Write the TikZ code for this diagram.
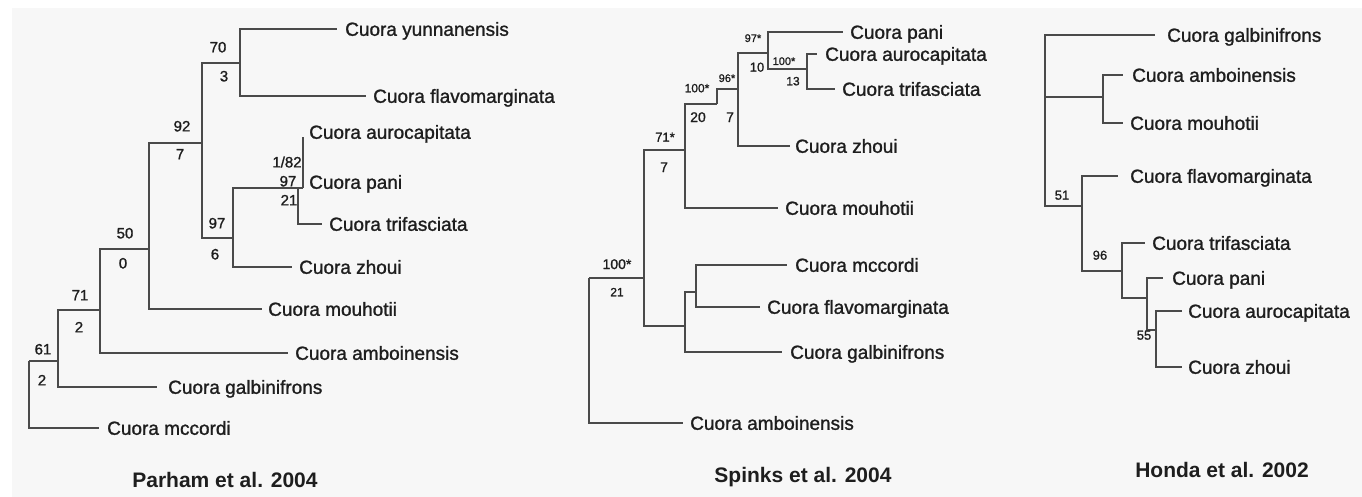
\documentclass[tikz,border=0pt]{standalone}
\usepackage{fontspec}
\setmainfont{Liberation Sans}
\newfontfamily\heavyfont[FakeBold=1.2]{Liberation Sans}
\definecolor{branch}{HTML}{4A4A4A}
\definecolor{txt}{HTML}{1E1E1E}
\definecolor{paper}{HTML}{F7F7F7}
\tikzset{
  br/.style={draw=branch, line width=2.4pt},
  taxon/.style={anchor=base west, inner sep=0pt, yshift=-6.8pt, text=txt, font=\heavyfont\fontsize{19}{22}\selectfont},
  lab/.style={anchor=base, inner sep=0pt, yshift={-0.36*#1}, text=txt, font=\heavyfont\fontsize{#1}{#1}\selectfont},
  ttl/.style={anchor=base, inner sep=0pt, yshift=-7.5pt, text=txt, font=\bfseries\fontsize{21}{25}\selectfont},
}
\newcommand{\tip}[5]{% name, end of branch, y, start of text, species
  \coordinate (#1) at (#2,#3);
  \node[taxon] (#1-t) at (#4,#3) {#5};
}

\begin{document}
\begin{tikzpicture}[x=1pt, y=-1pt]
\fill[white] (0,0) rectangle (1362,497);
\fill[paper] (12,8) rectangle (1362,497);
\useasboundingbox (0,0) rectangle (1362,497);

% ---------------- Parham et al. 2004 ----------------
\coordinate (pR) at (29,361);
\coordinate (p61) at (58,361);
\coordinate (p71) at (100,310);
\coordinate (p50) at (149,249);
\coordinate (p92) at (202,143);
\coordinate (p70) at (240,63);
\coordinate (p97) at (233,238);
\coordinate (p182) at (303,188);
\coordinate (p21) at (298,188);
\tip{pyun}{337}{29}{345}{Cuora yunnanensis}
\tip{pfla}{366}{96}{373}{Cuora flavomarginata}
\coordinate (paur) at (303,137);
\node[taxon] (paur-t) at (309,132) {Cuora aurocapitata};
\node[taxon] (ppan-t) at (309,182) {Cuora pani};
\tip{ptri}{322}{224}{329}{Cuora trifasciata}
\tip{pzho}{292}{267}{299}{Cuora zhoui}
\tip{pmou}{262}{309}{268}{Cuora mouhotii}
\tip{pamb}{288}{353}{295}{Cuora amboinensis}
\tip{pgal}{157}{387}{168}{Cuora galbinifrons}
\tip{pmcc}{99}{428}{107}{Cuora mccordi}
\foreach \a/\b in {pR/p61, pR/pmcc, p61/p71, p61/pgal, p71/p50, p71/pamb,
                   p50/p92, p50/pmou, p92/p70, p92/p97, p70/pyun, p70/pfla,
                   p97/p182, p97/pzho, p182/paur, p21/ptri}
  \draw[br] (\a) |- (\b);
\foreach \nm/\x/\y/\t in {p70a/218/47/70, p70b/224/76/3, p92a/182/126/92, p92b/180/154/7,
                          p97a/217/223/97, p97b/215/254/6, p50a/125/233/50, p50b/123/263/0,
                          p71a/80/295/71, p71b/79/327/2, p61a/43/349/61, p61b/42/380/2,
                          p182a/287/162/1\slash 82, p182b/288/181/97, p182c/289/200/21}
  \node[lab=15] (\nm) at (\x,\y) {\t};
\node[ttl] (ptitle) at (225,480) {Parham et al. 2004};

% ---------------- Spinks et al. 2004 ----------------
\coordinate (sR) at (589,278);
\coordinate (s100a) at (644,278);
\coordinate (s71) at (685,150);
\coordinate (s100b) at (717,104);
\coordinate (s96) at (738,89);
\coordinate (s97) at (768,53);
\coordinate (s100c) at (807,69);
\coordinate (sgrp) at (685,326);
\coordinate (sin) at (696,292);
\tip{span}{843}{32}{850}{Cuora pani}
\tip{saur}{817}{54}{825}{Cuora aurocapitata}
\tip{stri}{835}{89}{842}{Cuora trifasciata}
\tip{szho}{790}{146}{795}{Cuora zhoui}
\tip{smou}{778}{208}{785}{Cuora mouhotii}
\tip{smcc}{787}{265}{795}{Cuora mccordi}
\tip{sfla}{760}{307}{767}{Cuora flavomarginata}
\tip{sgal}{782}{352}{790}{Cuora galbinifrons}
\tip{samb}{683}{423}{690}{Cuora amboinensis}
\foreach \a/\b in {sR/s100a, sR/samb, s100a/s71, s100a/sgrp, s71/s100b, s71/smou,
                   s100b/s96, s96/s97, s96/szho, s97/span, s97/s100c, s100c/saur,
                   s100c/stri, sgrp/sin, sgrp/sgal, sin/smcc, sin/sfla}
  \draw[br] (\a) |- (\b);
\foreach \nm/\x/\y/\s/\t in {s97a/753/38/11/97*, s97b/757/67/13/10, s100ca/784/61/11/100*,
                             s100cb/793/81/12/13, s96a/727/78/11/96*, s96b/730/117/14/7,
                             s100ba/697/88/12/100*, s100bb/698/117/14/20, s71a/665/137/13/71*,
                             s71b/664/167/14/7, s100aa/617/264/14/100*, s100ab/617/292/12/21}
  \node[lab=\s] (\nm) at (\x,\y) {\t};
\node[ttl] (stitle) at (803,475) {Spinks et al. 2004};

% ---------------- Honda et al. 2002 ----------------
\coordinate (hR) at (1045,97);
\coordinate (hA) at (1103,97);
\coordinate (h51) at (1082,206);
\coordinate (h96) at (1122,271);
\coordinate (hB) at (1147,298);
\coordinate (h55) at (1156,330);
\tip{hgal}{1155}{35}{1167}{Cuora galbinifrons}
\tip{hamb}{1123}{75}{1132}{Cuora amboinensis}
\tip{hmou}{1123}{123}{1130}{Cuora mouhotii}
\tip{hfla}{1118}{176}{1130}{Cuora flavomarginata}
\tip{htri}{1145}{243}{1152}{Cuora trifasciata}
\tip{hpan}{1163}{278}{1172}{Cuora pani}
\tip{haur}{1182}{311}{1188}{Cuora aurocapitata}
\tip{hzho}{1182}{367}{1188}{Cuora zhoui}
\foreach \a/\b in {hR/hgal, hR/hA, hR/h51, hA/hamb, hA/hmou, h51/hfla, h51/h96,
                   h96/htri, h96/hB, hB/hpan, hB/h55, h55/haur, h55/hzho}
  \draw[br] (\a) |- (\b);
\foreach \nm/\x/\y/\t in {h51a/1062/195/51, h96a/1100/255/96, h55a/1144/335/55}
  \node[lab=13] (\nm) at (\x,\y) {\t};
\node[ttl] (htitle) at (1222,470) {Honda et al. 2002};
\end{tikzpicture}
\end{document}
